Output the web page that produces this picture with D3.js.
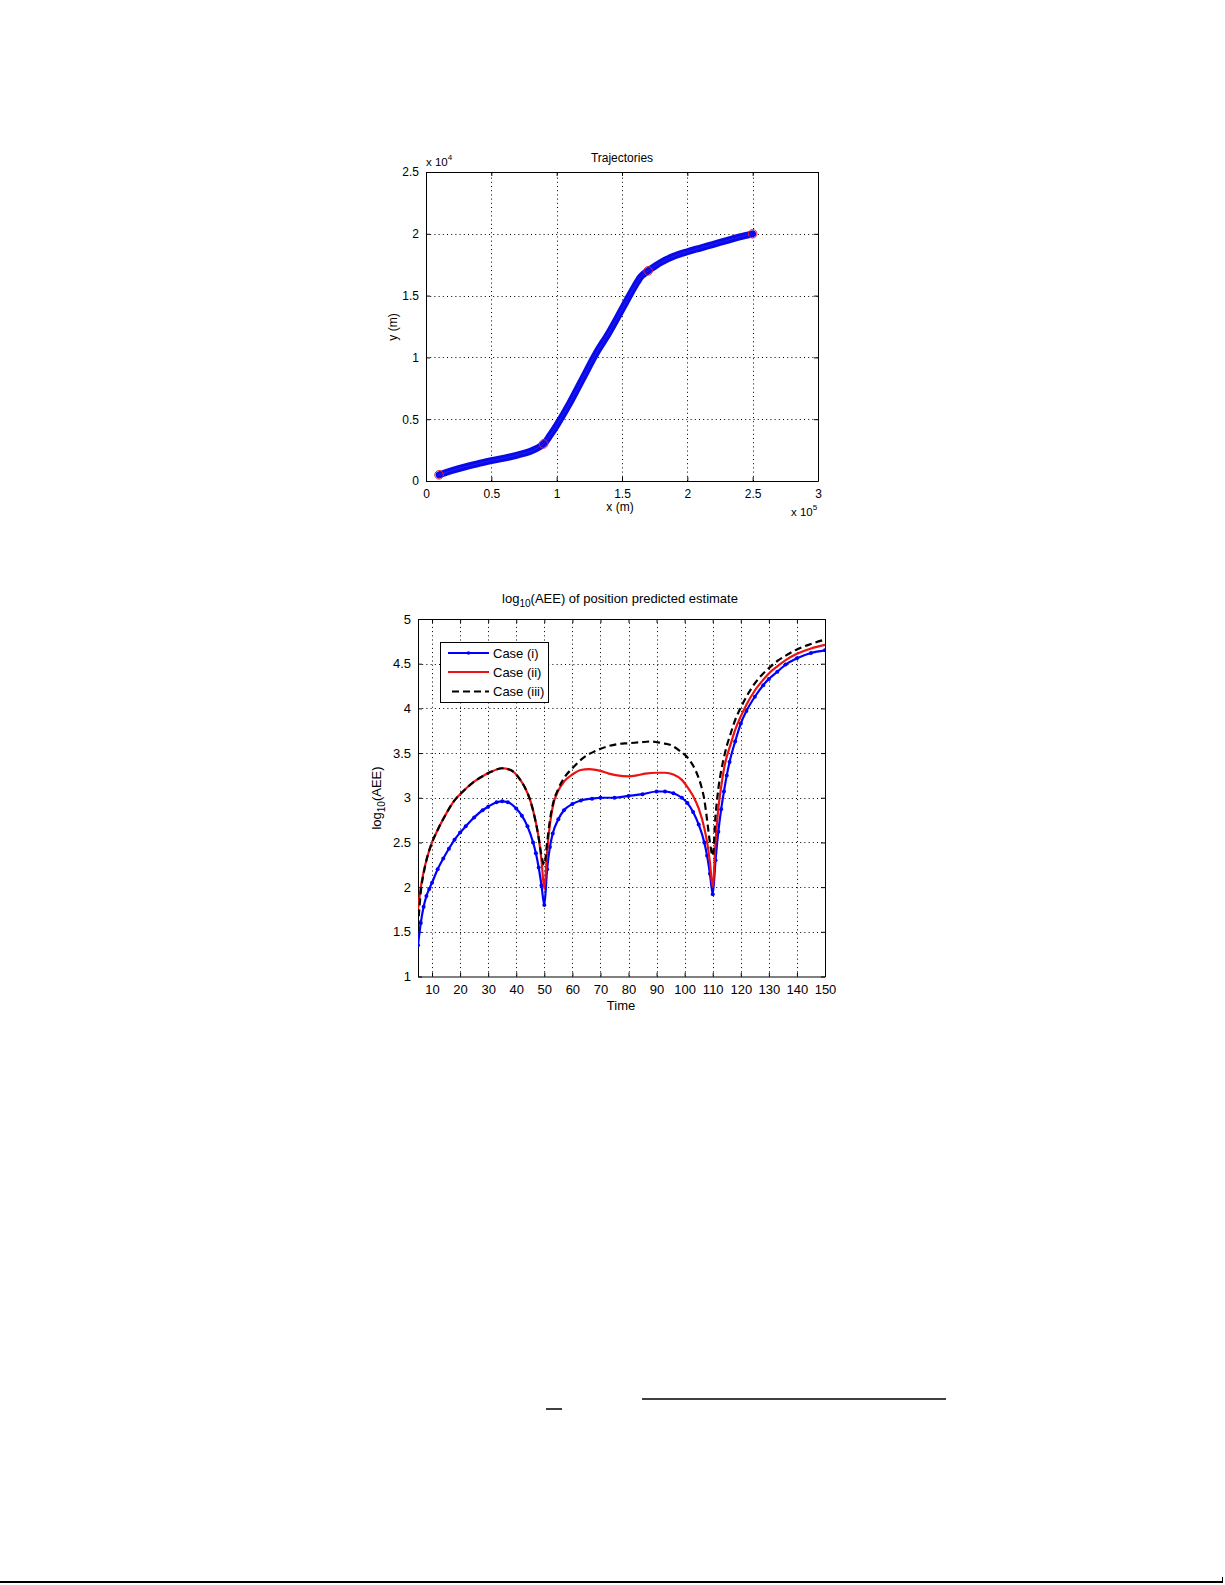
<!DOCTYPE html>
<html>
<head>
<meta charset="utf-8">
<script src="https://cdn.jsdelivr.net/npm/d3@7"></script>
<style>
  html, body { margin: 0; padding: 0; background: #fff; }
  svg { display: block; }
  text { font-family: "Liberation Sans", Arial, Helvetica, sans-serif; fill: #000; }
</style>
</head>
<body>
<svg id="page" width="1225" height="1585"></svg>
<script>
// ---------- Top chart: Trajectories (x in 1e5 m, y in 1e4 m) ----------
const trajX = [0.1,0.2,0.3,0.4,0.5,0.6,0.7,0.8,0.9,0.95,1.0,1.1,1.2,1.3,1.4,1.5,1.6,1.65,1.7,1.8,1.9,2.0,2.1,2.2,2.3,2.4,2.5];
const trajY = [0.05,0.085,0.115,0.14,0.165,0.185,0.21,0.24,0.3,0.37,0.45,0.63,0.83,1.03,1.2,1.39,1.58,1.66,1.7,1.77,1.82,1.855,1.885,1.915,1.945,1.975,2.0];
const waypointX = [0.1,0.9,1.7,2.5];
const waypointY = [0.05,0.3,1.7,2.0];
const trajXTicks = [0,0.5,1,1.5,2,2.5,3];
const trajYTicks = [0,0.5,1,1.5,2,2.5];

// ---------- Bottom chart: log10(AEE) ----------
const timeI = [5,6,7,8,9,10,12,14,16,18,20,22,25,28,30,33,35,37,40,42,44,46,47,48,49,50,51,52,53,55,57,60,63,67,70,75,80,85,90,93,96,99,101,103,105,107,108,109,110,111,112,113,114,115,116,118,120,122,125,128,130,133,136,140,145,150];
const caseI = [1.35,1.6,1.78,1.9,1.98,2.05,2.2,2.32,2.43,2.53,2.61,2.68,2.78,2.86,2.9,2.95,2.96,2.95,2.88,2.8,2.68,2.5,2.38,2.22,2.02,1.8,2.2,2.45,2.6,2.76,2.86,2.93,2.97,2.99,3.0,3.0,3.02,3.04,3.07,3.07,3.05,3.0,2.94,2.84,2.7,2.5,2.35,2.15,1.92,2.3,2.62,2.87,3.07,3.25,3.4,3.63,3.83,3.97,4.13,4.26,4.33,4.41,4.49,4.56,4.62,4.65];
const timeII = [5,6,7,8,10,12,15,18,21,25,28,31,35,38,41,43,45,47,48,49,50,51,52,53,55,57,60,63,66,70,73,76,80,83,86,90,93,96,99,101,103,105,107,108,109,110,111,112,113,114,115,116,118,120,122,125,128,130,133,136,140,145,150];
const caseII = [1.75,2.0,2.17,2.3,2.5,2.64,2.82,2.97,3.07,3.18,3.24,3.29,3.33,3.31,3.22,3.12,2.97,2.72,2.55,2.3,1.98,2.4,2.7,2.9,3.08,3.18,3.26,3.31,3.32,3.3,3.27,3.25,3.24,3.25,3.27,3.28,3.28,3.26,3.2,3.12,3.02,2.88,2.66,2.5,2.28,2.0,2.5,2.88,3.12,3.32,3.46,3.56,3.76,3.91,4.04,4.2,4.32,4.39,4.47,4.54,4.61,4.67,4.71];
const timeIII = [5,6,7,8,10,12,15,18,21,25,28,31,35,38,41,43,45,47,48,49,50,51,52,53,55,57,60,64,68,72,76,80,84,88,92,95,98,101,103,105,106,107,108,109,110,111,112,113,114,115,116,118,120,122,125,128,130,133,136,140,145,150];
const caseIII = [1.55,1.95,2.15,2.3,2.5,2.64,2.82,2.97,3.07,3.18,3.24,3.29,3.33,3.31,3.22,3.12,2.97,2.72,2.55,2.35,2.25,2.5,2.75,2.92,3.1,3.22,3.33,3.45,3.52,3.57,3.6,3.61,3.62,3.63,3.61,3.59,3.53,3.45,3.36,3.22,3.12,2.98,2.75,2.5,2.35,2.8,3.1,3.3,3.45,3.58,3.68,3.87,4.01,4.13,4.28,4.39,4.45,4.53,4.59,4.66,4.72,4.77];
const seriesNames = ["Case (i)","Case (ii)","Case (iii)"];
const timeTicks = [10,20,30,40,50,60,70,80,90,100,110,120,130,140,150];
const aeeTicks = [1,1.5,2,2.5,3,3.5,4,4.5,5];

const svg = d3.select("#page");
const fmt = d => String(d);

function frame(g, x, y, xTicks, yTicks, fontSize) {
  const [x0, x1] = x.range();
  const [y0, y1] = y.range(); // y0 bottom, y1 top
  const grid = g.append("g").attr("stroke", "#000").attr("stroke-width", 1).attr("stroke-dasharray", "1,3.2");
  xTicks.forEach(t => {
    const px = Math.round(x(t)) + 0.5;
    if (Math.abs(px - x0) > 1 && Math.abs(px - x1) > 1)
      grid.append("line").attr("x1", px).attr("x2", px).attr("y1", y0).attr("y2", y1);
  });
  yTicks.forEach(t => {
    const py = Math.round(y(t)) + 0.5;
    if (Math.abs(py - y0) > 1 && Math.abs(py - y1) > 1)
      grid.append("line").attr("x1", x0).attr("x2", x1).attr("y1", py).attr("y2", py);
  });
  const axStyle = sel => {
    sel.select(".domain").attr("stroke", "#000").attr("stroke-width", 1);
    sel.selectAll(".tick line").attr("stroke", "#000");
    sel.selectAll(".tick text").attr("font-size", fontSize).attr("font-family", "Liberation Sans, Arial, sans-serif").attr("fill", "#000");
  };
  g.append("g").attr("transform", `translate(0,${y0})`)
    .call(d3.axisBottom(x).tickValues(xTicks).tickFormat(fmt).tickSizeInner(-4).tickSizeOuter(0).tickPadding(8))
    .call(axStyle);
  g.append("g").attr("transform", `translate(0,${y1})`)
    .call(d3.axisTop(x).tickValues(xTicks).tickFormat("").tickSizeInner(-4).tickSizeOuter(0))
    .call(axStyle);
  g.append("g").attr("transform", `translate(${x0},0)`)
    .call(d3.axisLeft(y).tickValues(yTicks).tickFormat(fmt).tickSizeInner(-4).tickSizeOuter(0).tickPadding(7))
    .call(axStyle);
  g.append("g").attr("transform", `translate(${x1},0)`)
    .call(d3.axisRight(y).tickValues(yTicks).tickFormat("").tickSizeInner(-4).tickSizeOuter(0))
    .call(axStyle);
}

// ===== Top chart =====
{
  const g = svg.append("g");
  const x = d3.scaleLinear().domain([0, 3]).range([426, 818]);
  const y = d3.scaleLinear().domain([0, 2.5]).range([481, 172]);
  frame(g, x, y, trajXTicks, trajYTicks, 12);

  const line = d3.line().x(i => x(trajX[i])).y(i => y(trajY[i])).curve(d3.curveCatmullRom);
  const idx = d3.range(trajX.length);
  g.append("path").attr("d", line(idx)).attr("fill", "none").attr("stroke", "#0a0ae8")
    .attr("stroke-width", 7).attr("stroke-linecap", "round").attr("stroke-linejoin", "round");
  g.append("path").attr("d", line(idx)).attr("fill", "none").attr("stroke", "#2a2aff")
    .attr("stroke-width", 1).attr("opacity", 0.6);

  g.selectAll("circle.wp").data(d3.range(waypointX.length)).join("circle")
    .attr("cx", i => x(waypointX[i])).attr("cy", i => y(waypointY[i])).attr("r", 4.3)
    .attr("fill", "none").attr("stroke", "#e0203a").attr("stroke-width", 1);

  g.append("text").attr("x", 622).attr("y", 162).attr("text-anchor", "middle").attr("font-size", 12).text("Trajectories");
  g.append("text").attr("x", 620).attr("y", 511).attr("text-anchor", "middle").attr("font-size", 12).text("x (m)");
  g.append("text").attr("transform", "translate(397,327) rotate(-90)").attr("text-anchor", "middle").attr("font-size", 12).text("y (m)");
  const e1 = g.append("text").attr("x", 426).attr("y", 166).attr("font-size", 11.5);
  e1.append("tspan").text("x 10");
  e1.append("tspan").attr("dy", -6).attr("font-size", 8).text("4");
  const e2 = g.append("text").attr("x", 791).attr("y", 516).attr("font-size", 11.5);
  e2.append("tspan").text("x 10");
  e2.append("tspan").attr("dy", -6).attr("font-size", 8).text("5");
}

// ===== Bottom chart =====
{
  const g = svg.append("g");
  const x = d3.scaleLinear().domain([5, 150]).range([418, 825]);
  const y = d3.scaleLinear().domain([1, 5]).range([976.5, 619]);
  frame(g, x, y, timeTicks, aeeTicks, 13);

  const mk = (ts, vs) => d3.line().x(i => x(ts[i])).y(i => y(vs[i])).curve(d3.curveMonotoneX)(d3.range(ts.length));
  g.append("clipPath").attr("id", "clipB").append("rect")
    .attr("x", 418).attr("y", 619).attr("width", 407).attr("height", 357.5);
  const lines = g.append("g").attr("clip-path", "url(#clipB)");

  lines.append("path").attr("d", mk(timeI, caseI)).attr("fill", "none").attr("stroke", "#0000ff").attr("stroke-width", 2.2);
  lines.selectAll("circle.m").data(d3.range(timeI.length)).join("circle")
    .attr("cx", i => x(timeI[i])).attr("cy", i => y(caseI[i])).attr("r", 2).attr("fill", "#0000ff");
  lines.append("path").attr("d", mk(timeII, caseII)).attr("fill", "none").attr("stroke", "#ee1111").attr("stroke-width", 2.2);
  lines.append("path").attr("d", mk(timeIII, caseIII)).attr("fill", "none").attr("stroke", "#000").attr("stroke-width", 2.2).attr("stroke-dasharray", "7,4");

  const t = g.append("text").attr("x", 620).attr("y", 603).attr("text-anchor", "middle").attr("font-size", 13);
  t.append("tspan").text("log");
  t.append("tspan").attr("dy", 4).attr("font-size", 10).text("10");
  t.append("tspan").attr("dy", -4).text("(AEE) of position predicted estimate");
  g.append("text").attr("x", 621).attr("y", 1010).attr("text-anchor", "middle").attr("font-size", 13).text("Time");
  const yl = g.append("text").attr("transform", "translate(381,798) rotate(-90)").attr("text-anchor", "middle").attr("font-size", 13);
  yl.append("tspan").text("log");
  yl.append("tspan").attr("dy", 4).attr("font-size", 10).text("10");
  yl.append("tspan").attr("dy", -4).text("(AEE)");

  const lg = g.append("g");
  lg.append("rect").attr("x", 440.5).attr("y", 642.5).attr("width", 108).attr("height", 60)
    .attr("fill", "#fff").attr("stroke", "#000").attr("stroke-width", 1);
  const ly = [653, 672, 691.5];
  const styles = [
    {c: "#0000ff", d: null, m: true},
    {c: "#ee1111", d: null, m: false},
    {c: "#000", d: "7,4", m: false}
  ];
  seriesNames.forEach((name, i) => {
    const s = styles[i];
    const ln = lg.append("line").attr("x1", 448).attr("x2", 489).attr("y1", ly[i]).attr("y2", ly[i])
      .attr("stroke", s.c).attr("stroke-width", 2);
    if (s.d) ln.attr("stroke-dasharray", s.d).attr("x1", 452);
    if (s.m) lg.append("circle").attr("cx", 468.5).attr("cy", ly[i]).attr("r", 1.8).attr("fill", s.c);
    lg.append("text").attr("x", 493).attr("y", ly[i] + 4.5).attr("font-size", 13).text(name);
  });
}

// page fragments
svg.append("line").attr("x1", 642).attr("x2", 946).attr("y1", 1399).attr("y2", 1399).attr("stroke", "#000").attr("stroke-width", 1.5);
svg.append("line").attr("x1", 546).attr("x2", 562).attr("y1", 1409).attr("y2", 1409).attr("stroke", "#000").attr("stroke-width", 1.5);
svg.append("line").attr("x1", 0).attr("x2", 1223).attr("y1", 1582).attr("y2", 1582).attr("stroke", "#000").attr("stroke-width", 2);
svg.append("line").attr("x1", 1222.5).attr("x2", 1222.5).attr("y1", 1577).attr("y2", 1583).attr("stroke", "#000").attr("stroke-width", 1);
</script>
</body>
</html>
